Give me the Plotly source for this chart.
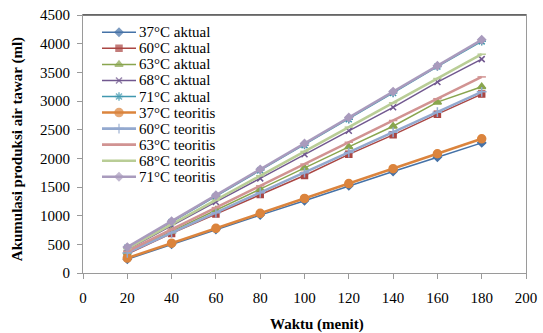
import plotly.graph_objects as go

waktu = [20, 40, 60, 80, 100, 120, 140, 160, 180]

aktual_37 = [240, 500, 760, 1010, 1260, 1520, 1770, 2020, 2270]
aktual_60 = [330, 690, 1030, 1370, 1700, 2070, 2410, 2770, 3120]
aktual_63 = [360, 730, 1100, 1460, 1830, 2200, 2560, 2980, 3250]
aktual_68 = [410, 830, 1240, 1650, 2070, 2480, 2890, 3330, 3730]
aktual_71 = [440, 890, 1340, 1790, 2230, 2680, 3140, 3600, 4040]

teoritis_37 = [260, 520, 780, 1040, 1300, 1560, 1820, 2080, 2340]
teoritis_60 = [350, 700, 1050, 1400, 1750, 2100, 2455, 2805, 3160]
teoritis_63 = [380, 760, 1140, 1520, 1900, 2280, 2660, 3040, 3420]
teoritis_68 = [424, 848, 1272, 1696, 2120, 2544, 2968, 3392, 3816]
teoritis_71 = [452, 904, 1356, 1808, 2260, 2712, 3164, 3616, 4068]

series_names = ["37°C aktual", "60°C aktual", "63°C aktual", "68°C aktual", "71°C aktual",
                "37°C teoritis", "60°C teoritis", "63°C teoritis", "68°C teoritis", "71°C teoritis"]

x_ticks = [0, 20, 40, 60, 80, 100, 120, 140, 160, 180, 200]
y_ticks = [0, 500, 1000, 1500, 2000, 2500, 3000, 3500, 4000, 4500]

series_values = [aktual_37, aktual_60, aktual_63, aktual_68, aktual_71,
                 teoritis_37, teoritis_60, teoritis_63, teoritis_68, teoritis_71]

styles = [
    ("#4572A7", "diamond", 6, 1.5),
    ("#AA4643", "square", 6, 1.5),
    ("#89A54E", "triangle-up", 7, 1.5),
    ("#71588F", "x-thin", 6, 1.5),
    ("#4198AF", "asterisk", 7, 1.5),
    ("#DB843D", "circle", 8, 2.6),
    ("#93A9CF", "cross-thin", 7, 2.6),
    ("#D19392", "line-ew", 6, 2.6),
    ("#B9CD96", "line-ew", 6, 2.6),
    ("#A99BBD", "diamond", 6, 2.6),
]

font_family = "Liberation Serif"

fig = go.Figure()
for name, vals, (color, sym, size, lw) in zip(series_names, series_values, styles):
    fig.add_trace(go.Scatter(
        x=waktu, y=vals, name=name, mode="lines+markers",
        line=dict(color=color, width=lw),
        marker=dict(symbol=sym, size=size, color=color,
                    line=dict(color=color, width=1.5)),
        showlegend=False,
    ))

# legend drawn on an overlay axis measured in layout pixels
legend_x0, legend_x1, legend_text_x = 102, 136, 137
legend_y0, legend_dy = 32.3, 16.05
annotations = []
for i, (name, (color, sym, size, lw)) in enumerate(zip(series_names, styles)):
    yy = legend_y0 + legend_dy * i
    xm = (legend_x0 + legend_x1) / 2
    fig.add_trace(go.Scatter(
        x=[legend_x0, xm, legend_x1], y=[yy, yy, yy], mode="lines+markers",
        xaxis="x2", yaxis="y2", hoverinfo="skip", showlegend=False,
        line=dict(color=color, width=lw),
        marker=dict(symbol=sym, size=[0, size, 0], color=color,
                    line=dict(color=color, width=1.5)),
    ))
    annotations.append(dict(text=name, xref="x2", yref="y2", x=legend_text_x, y=yy,
                            xanchor="left", yanchor="middle", showarrow=False,
                            font=dict(family=font_family, size=15, color="black")))

annotations += [
    dict(text="<b>Waktu (menit)</b>", xref="paper", yref="paper",
         x=0.528, y=-0.2, xanchor="center", yanchor="middle", showarrow=False,
         font=dict(family=font_family, size=15)),
    dict(text="<b>Akumulasi produksi air tawar (ml)</b>", xref="paper", yref="paper",
         x=-0.149, y=0.48, xanchor="center", yanchor="middle", showarrow=False,
         textangle=-90, font=dict(family=font_family, size=15)),
]

fig.update_layout(
    width=543, height=333,
    margin=dict(l=83, r=17, t=15, b=60, autoexpand=False),
    paper_bgcolor="white", plot_bgcolor="white",
    font=dict(family=font_family, size=15, color="black"),
    showlegend=False,
    xaxis=dict(range=[0, 200], tickvals=x_ticks, ticktext=[str(v) for v in x_ticks],
               showgrid=False, zeroline=False, showline=True, linecolor="#9a9a9a",
               linewidth=1, mirror=True, ticks="outside", ticklen=5, tickcolor="#9a9a9a",
               ticklabelstandoff=6, automargin=False,
               tickfont=dict(family=font_family, size=15)),
    yaxis=dict(range=[0, 4500], tickvals=y_ticks, ticktext=[str(v) for v in y_ticks],
               showgrid=False, zeroline=False, showline=True, linecolor="#9a9a9a",
               linewidth=1, mirror=True, ticks="outside", ticklen=5, tickcolor="#9a9a9a",
               ticklabelstandoff=4, automargin=False,
               tickfont=dict(family=font_family, size=15)),
    xaxis2=dict(overlaying="x", range=[83, 526], visible=False, fixedrange=True),
    yaxis2=dict(overlaying="y", range=[273, 15], visible=False, fixedrange=True),
    shapes=[dict(type="line", xref="paper", yref="paper", x0=0, x1=1, y0=1, y1=1,
                 line=dict(color="#555555", width=1.5))],
    annotations=annotations,
)

fig.write_html("out.html")
